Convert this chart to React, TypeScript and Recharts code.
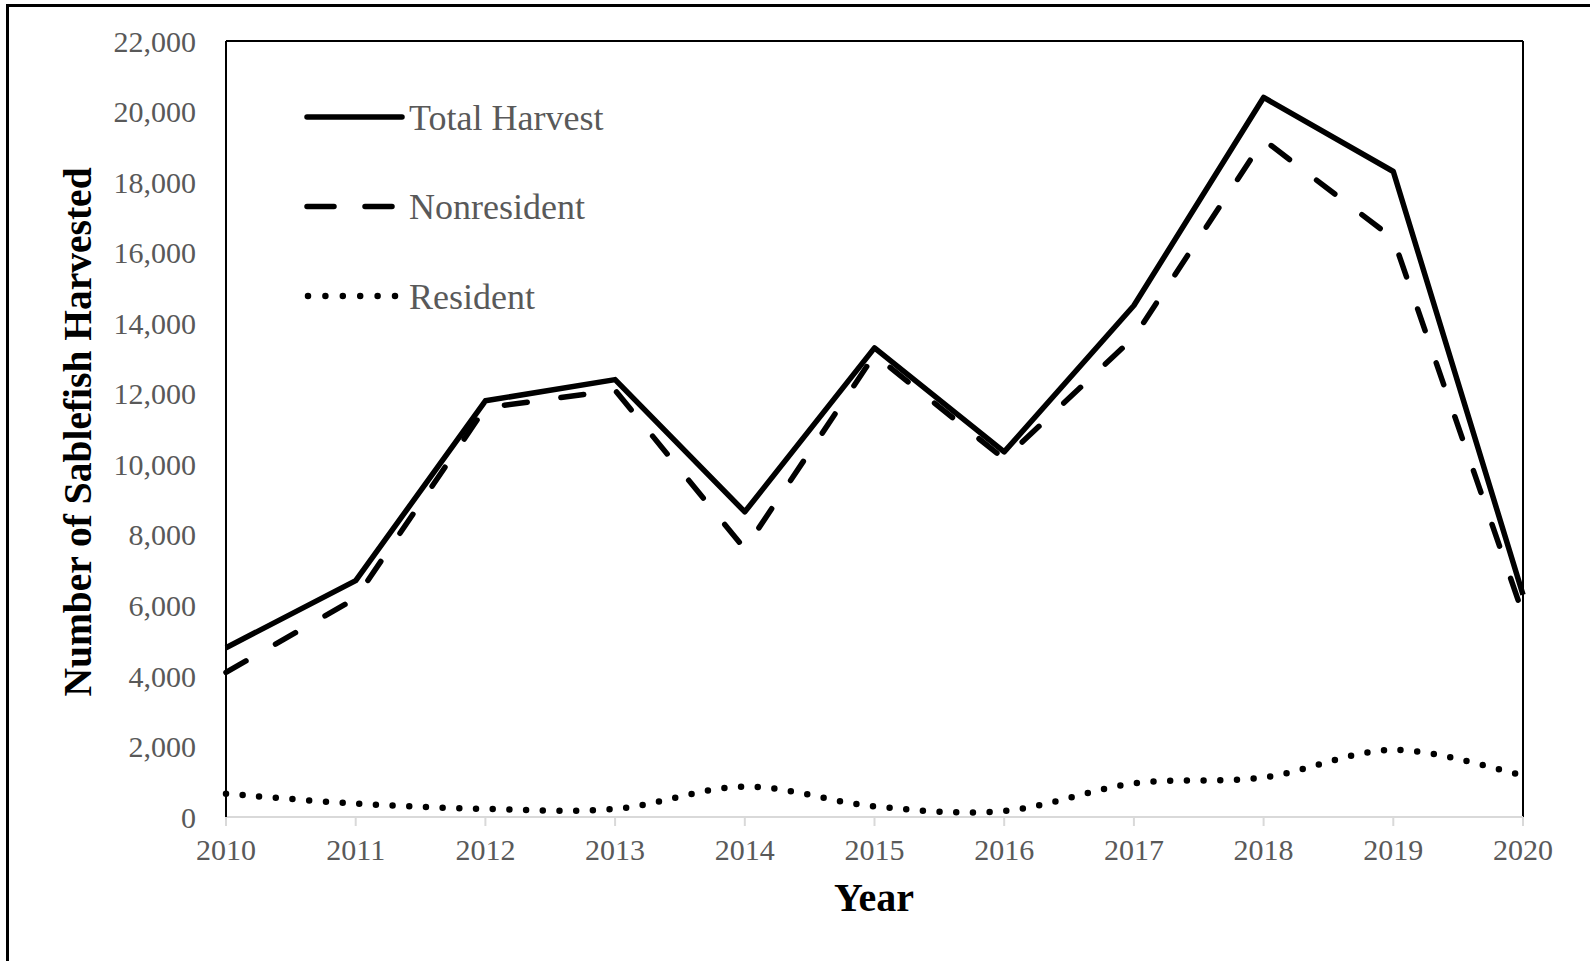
import React from "react";
import {
  LineChart,
  Line,
  XAxis,
  YAxis,
  Legend,
  Label,
  ReferenceLine,
} from "recharts";

const years = [2010, 2011, 2012, 2013, 2014, 2015, 2016, 2017, 2018, 2019, 2020];
const totalHarvest = [4800, 6700, 11800, 12400, 8650, 13300, 10350, 14500, 20400, 18300, 6300];
const nonresident = [4100, 6200, 11600, 12100, 7600, 13100, 10150, 13600, 19200, 16400, 5750];
const resident = [660, 380, 230, 230, 860, 300, 170, 950, 1120, 1900, 1180];
const yTicks = [0, 2000, 4000, 6000, 8000, 10000, 12000, 14000, 16000, 18000, 20000, 22000];

const data = years.map((year, i) => ({
  year,
  total: totalHarvest[i],
  nonresident: nonresident[i],
  resident: resident[i],
}));

const FONT = "'Liberation Serif', 'Times New Roman', serif";
const GREY = "#595959";

// Excel-style smoothed line (Catmull-Rom)
function excelSmooth(context: any) {
  let pts: number[][] = [];
  return {
    areaStart() {},
    areaEnd() {},
    lineStart() {
      pts = [];
    },
    point(x: number, y: number) {
      pts.push([+x, +y]);
    },
    lineEnd() {
      if (!pts.length) return;
      context.moveTo(pts[0][0], pts[0][1]);
      for (let i = 0; i < pts.length - 1; i++) {
        const p0 = pts[i - 1] || pts[i];
        const p1 = pts[i];
        const p2 = pts[i + 1];
        const p3 = pts[i + 2] || p2;
        context.bezierCurveTo(
          p1[0] + (p2[0] - p0[0]) / 6,
          p1[1] + (p2[1] - p0[1]) / 6,
          p2[0] - (p3[0] - p1[0]) / 6,
          p2[1] - (p3[1] - p1[1]) / 6,
          p2[0],
          p2[1]
        );
      }
    },
  };
}

const legendItems = [
  { name: "Total Harvest", dash: undefined, width: 5.5 },
  { name: "Nonresident", dash: "27 31", width: 5.5 },
  { name: "Resident", dash: "0 17.4", width: 6.5 },
];

function renderLegend() {
  return (
    <svg width={360} height={260}>
      {legendItems.map((item, i) => {
        const cy = 37 + i * 89.5;
        return (
          <g key={item.name}>
            <line
              x1={item.dash === "0 17.4" ? 10 : 9}
              x2={item.dash === "0 17.4" ? 97 : 104}
              y1={cy}
              y2={cy}
              stroke="#000"
              strokeWidth={item.width}
              strokeDasharray={item.dash}
              strokeLinecap="round"
            />
            <text
              x={111}
              y={cy}
              dy="0.35em"
              fontSize={36}
              fontFamily={FONT}
              fill={GREY}
            >
              {item.name}
            </text>
          </g>
        );
      })}
    </svg>
  );
}

export default function App() {
  return (
    <div
      style={{
        position: "absolute",
        left: 0,
        top: 0,
        width: 1590,
        height: 961,
        overflow: "hidden",
        background: "#fff",
      }}
    >
      <div
        style={{
          position: "absolute",
          left: 6,
          top: 4,
          width: 1700,
          height: 1100,
          border: "3px solid #000",
        }}
      />
      <div style={{ position: "absolute", left: 0, top: 0 }}>
        <LineChart
          width={1590}
          height={961}
          data={data}
          margin={{ top: 41, right: 67, bottom: 44, left: 86 }}
        >
          <XAxis
            dataKey="year"
            type="number"
            domain={[2010, 2020]}
            ticks={years}
            height={100}
            axisLine={{ stroke: "#d9d9d9", strokeWidth: 2 }}
            tickLine={{ stroke: "#d9d9d9", strokeWidth: 2 }}
            tickSize={9}
            tickMargin={13}
            tick={{ fill: GREY, fontSize: 30, fontFamily: FONT }}
          >
            <Label
              content={() => (
                <text
                  x={874}
                  y={911}
                  textAnchor="middle"
                  fontSize={40}
                  fontWeight="bold"
                  fontFamily={FONT}
                  fill="#000"
                >
                  Year
                </text>
              )}
            />
          </XAxis>
          <YAxis
            type="number"
            domain={[0, 22000]}
            ticks={yTicks}
            width={140}
            axisLine={{ stroke: "#000", strokeWidth: 2 }}
            tickLine={false}
            tickSize={0}
            tickMargin={30}
            tick={{ fill: GREY, fontSize: 30, fontFamily: FONT }}
            tickFormatter={(v: number) => v.toLocaleString("en-US")}
          >
            <Label
              content={() => (
                <text
                  x={77}
                  y={432}
                  transform="rotate(-90, 77, 432)"
                  textAnchor="middle"
                  dy="0.35em"
                  fontSize={39.5}
                  fontWeight="bold"
                  fontFamily={FONT}
                  fill="#000"
                >
                  Number of Sablefish Harvested
                </text>
              )}
            />
          </YAxis>
          <ReferenceLine y={22000} stroke="#000" strokeWidth={2} />
          <ReferenceLine x={2020} stroke="#000" strokeWidth={2} />
          <Legend
            layout="vertical"
            align="center"
            verticalAlign="middle"
            content={renderLegend}
            wrapperStyle={{ left: 298, top: 80, width: 360, height: 260 }}
          />
          <Line
            dataKey="total"
            name="Total Harvest"
            type="linear"
            stroke="#000"
            strokeWidth={5.5}
            strokeLinejoin="round"
            dot={false}
            activeDot={false}
            isAnimationActive={false}
          />
          <Line
            dataKey="nonresident"
            name="Nonresident"
            type="linear"
            stroke="#000"
            strokeWidth={5.5}
            strokeDasharray="23 34"
            strokeLinecap="round"
            dot={false}
            activeDot={false}
            isAnimationActive={false}
          />
          <Line
            dataKey="resident"
            name="Resident"
            type={excelSmooth as any}
            stroke="#000"
            strokeWidth={6.5}
            strokeDasharray="0 16.7"
            strokeLinecap="round"
            dot={false}
            activeDot={false}
            isAnimationActive={false}
          />
        </LineChart>
      </div>
    </div>
  );
}
